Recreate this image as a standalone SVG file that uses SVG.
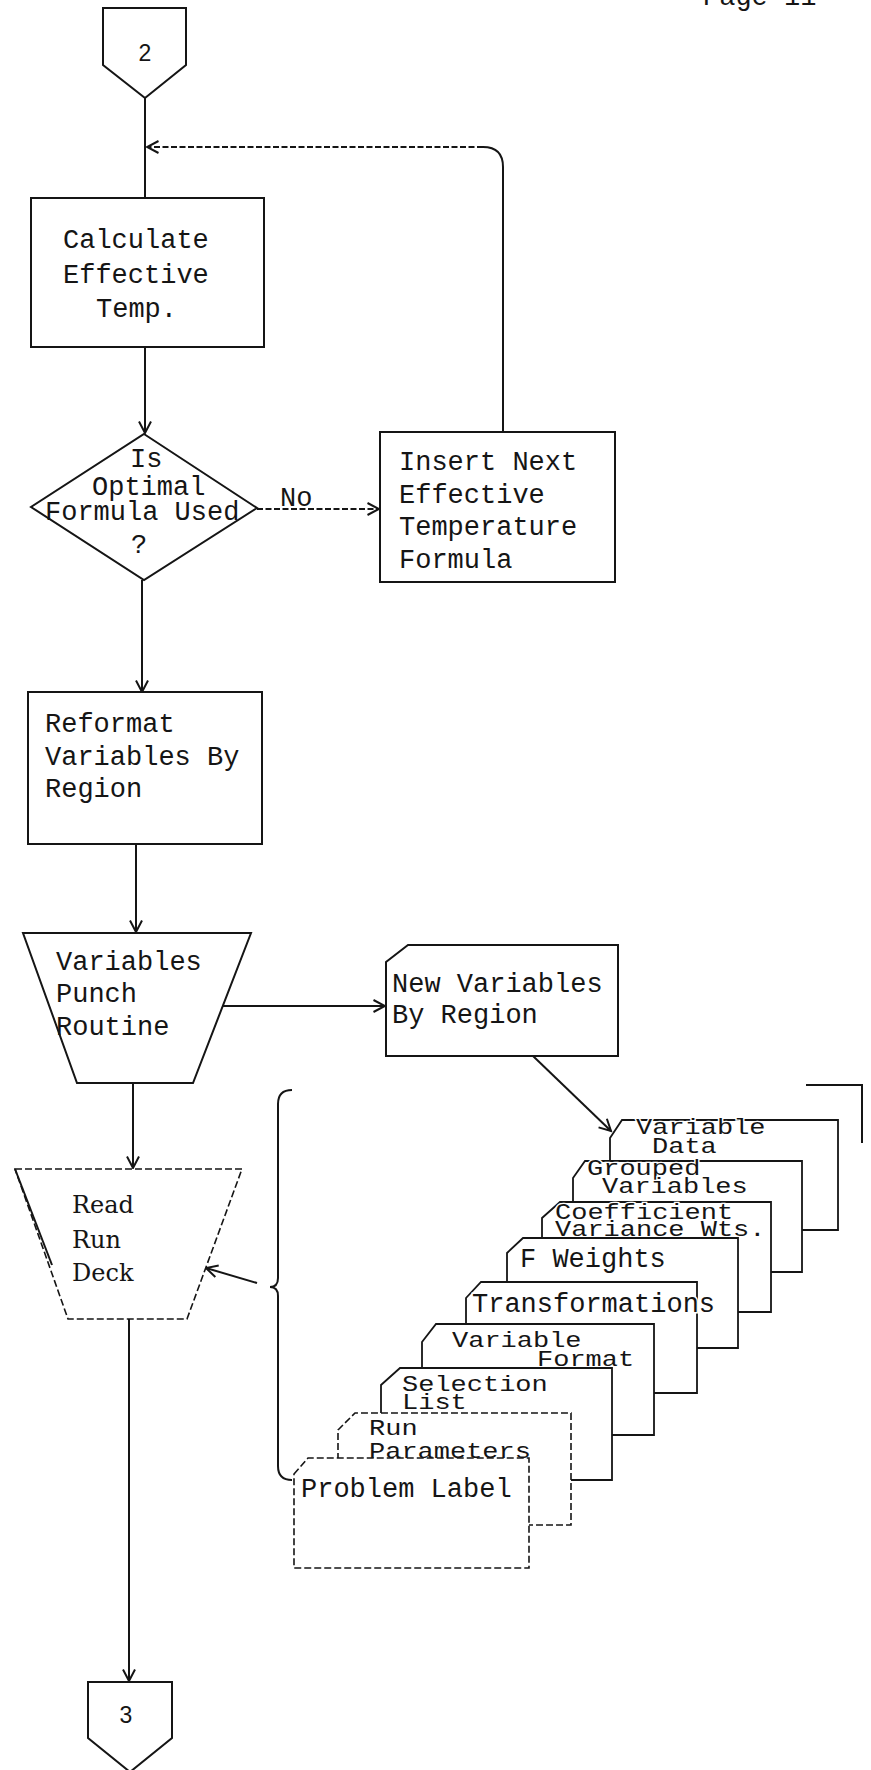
<svg xmlns="http://www.w3.org/2000/svg" width="871" height="1770" viewBox="0 0 871 1770">
  <style>
    .ln{fill:none;stroke:#151515;stroke-width:2}
    .box{fill:#fff;stroke:#151515;stroke-width:2}
    .card{fill:#fff;stroke:#151515;stroke-width:1.8}
    .faint{stroke-dasharray:7 3;stroke-width:1.6}
    .dash{stroke-dasharray:6 2.5}
    .t{font-family:"Liberation Mono","DejaVu Sans Mono",monospace;font-size:27px;fill:#151515}
    .ct{font-family:"Liberation Mono","DejaVu Sans Mono",monospace;font-size:27px;fill:#151515;paint-order:stroke;stroke:#fff;stroke-width:3px}
    .rd{font-family:"DejaVu Serif","Liberation Serif",serif;font-size:24px;fill:#151515}
    .num{font-family:"Liberation Sans",Arial,sans-serif;font-size:23px;fill:#151515;text-anchor:middle}
  </style>
  <defs>
    <marker id="arr" viewBox="0 0 14 14" refX="12.5" refY="7" markerWidth="14" markerHeight="14" markerUnits="userSpaceOnUse" orient="auto">
      <path d="M1,1 L12.5,7 L1,13" fill="none" stroke="#151515" stroke-width="2"/>
    </marker>
  </defs>
  <rect width="871" height="1770" fill="#fff"/>

  <!-- page number, top edge of sheet -->
  <text class="t" x="703" y="5" font-size="30">Page 11</text>

  <!-- flow lines -->
  <g id="connectors">
    <path class="ln" d="M145 98 V198"/>
    <path class="ln" d="M503 432 V167 Q503 147 483 147"/>
    <path class="ln dash" d="M483 147 H147" marker-end="url(#arr)"/>
    <path class="ln" d="M145 347 V433" marker-end="url(#arr)"/>
    <path class="ln dash" d="M257 509 H379" marker-end="url(#arr)"/>
    <path class="ln" d="M142 580 V692" marker-end="url(#arr)"/>
    <path class="ln" d="M136 845 V932" marker-end="url(#arr)"/>
    <path class="ln" d="M222 1006 H385" marker-end="url(#arr)"/>
    <path class="ln" d="M133 1083 V1168" marker-end="url(#arr)"/>
    <path class="ln" d="M533 1056 L611 1131" marker-end="url(#arr)"/>
    <path class="ln" d="M257 1283 L206 1268" marker-end="url(#arr)"/>
    <path class="ln" d="M129 1319 V1681" marker-end="url(#arr)"/>
  </g>

  <!-- off-page connector in -->
  <g id="conn-2">
    <path class="box" d="M103 8 H186 V65 L145 98 L103 65 Z"/>
    <text class="num" x="145" y="61">2</text>
  </g>

  <g id="calc-temp">
    <rect class="box" x="31" y="198" width="233" height="149"/>
    <text class="t" x="63" y="248">Calculate</text>
    <text class="t" x="63" y="283">Effective</text>
    <text class="t" x="96" y="317">Temp.</text>
  </g>

  <g id="optimal-check">
    <path class="box" d="M144 434 L257 508 L144 580 L31 507 Z"/>
    <text class="t" x="130" y="467">Is</text>
    <text class="t" x="92" y="495">Optimal</text>
    <text class="t" x="45" y="520">Formula Used</text>
    <text class="t" x="131" y="553">?</text>
  </g>

  <text id="label-no" class="t" x="280" y="506">No</text>

  <g id="insert-formula">
    <rect class="box" x="380" y="432" width="235" height="150"/>
    <text class="t" x="399" y="470">Insert Next</text>
    <text class="t" x="399" y="503">Effective</text>
    <text class="t" x="399" y="535">Temperature</text>
    <text class="t" x="399" y="568">Formula</text>
  </g>

  <g id="reformat">
    <rect class="box" x="28" y="692" width="234" height="152"/>
    <text class="t" x="45" y="732">Reformat</text>
    <text class="t" x="45" y="765">Variables By</text>
    <text class="t" x="45" y="797">Region</text>
  </g>

  <g id="punch-routine">
    <path class="box" d="M23 933 H251 L193 1083 H77 Z"/>
    <text class="t" x="56" y="970">Variables</text>
    <text class="t" x="56" y="1002">Punch</text>
    <text class="t" x="56" y="1035">Routine</text>
  </g>

  <g id="new-variables">
    <path class="box" d="M386 962 L408 945 H618 V1056 H386 Z"/>
    <text class="t" x="392" y="992">New Variables</text>
    <text class="t" x="392" y="1023">By Region</text>
  </g>

  <g id="read-run-deck">
    <path class="box faint" d="M15 1169 H242 L187 1319 H68 Z"/>
    <path class="ln" d="M15 1169 L52 1265"/>
    <text class="rd" x="72" y="1213">Read</text>
    <text class="rd" x="72" y="1248">Run</text>
    <text class="rd" x="72" y="1281">Deck</text>
  </g>

  <!-- brace grouping the run deck cards -->
  <path id="deck-brace" class="ln" d="M292 1090 Q278 1090 278 1104 V1278 Q278 1287 270 1287 Q278 1287 278 1296 V1466 Q278 1480 292 1480"/>
  <path id="deck-bracket" class="ln" d="M806 1085 H862 V1143"/>

  <!-- run deck cards, back to front; two-line cards are typed at half spacing -->
  <g id="card-variable-data">
    <path class="card" d="M610 1138 L622 1120 H838 V1230 H610 Z"/>
    <text class="ct" transform="translate(636 1134) scale(1 0.82)">Variable</text>
    <text class="ct" transform="translate(652 1153) scale(1 0.82)">Data</text>
  </g>
  <g id="card-grouped-variables">
    <path class="card" d="M573 1178 L585 1161 H802 V1272 H573 Z"/>
    <text class="ct" transform="translate(587 1175) scale(1 0.82)">Grouped</text>
    <text class="ct" transform="translate(602 1193) scale(1 0.82)">Variables</text>
  </g>
  <g id="card-coefficient">
    <path class="card" d="M542 1218 L560 1202 H771 V1312 H542 Z"/>
    <text class="ct" transform="translate(555 1219) scale(1 0.82)">Coefficient</text>
    <text class="ct" transform="translate(555 1236) scale(1 0.82)">Variance Wts.</text>
  </g>
  <g id="card-f-weights">
    <path class="card" d="M507 1253 L523 1238 H738 V1348 H507 Z"/>
    <text class="ct" x="520" y="1267">F Weights</text>
  </g>
  <g id="card-transformations">
    <path class="card" d="M466 1298 L481 1282 H697 V1393 H466 Z"/>
    <text class="ct" x="472" y="1312">Transformations</text>
  </g>
  <g id="card-variable-format">
    <path class="card" d="M422 1342 L436 1324 H654 V1435 H422 Z"/>
    <text class="ct" transform="translate(452 1347) scale(1 0.82)">Variable</text>
    <text class="ct" transform="translate(537 1366) scale(1 0.82)">Format</text>
  </g>
  <g id="card-selection-list">
    <path class="card" d="M381 1385 L400 1368 H612 V1480 H381 Z"/>
    <text class="ct" transform="translate(402 1391) scale(1 0.82)">Selection</text>
    <text class="ct" transform="translate(402 1409) scale(1 0.82)">List</text>
  </g>
  <g id="card-run-parameters">
    <path class="card faint" d="M338 1430 L355 1413 H571 V1525 H338 Z"/>
    <text class="ct" transform="translate(369 1435) scale(1 0.85)">Run</text>
    <text class="ct" transform="translate(369 1458) scale(1 0.85)">Parameters</text>
  </g>
  <g id="card-problem-label">
    <path class="card faint" d="M294 1474 L308 1458 H529 V1568 H294 Z"/>
    <text class="ct" x="301" y="1497">Problem Label</text>
  </g>

  <!-- off-page connector out -->
  <g id="conn-3">
    <path class="box" d="M88 1682 H172 V1738 L130 1772 L88 1738 Z"/>
    <text class="num" x="126" y="1723">3</text>
  </g>
</svg>
